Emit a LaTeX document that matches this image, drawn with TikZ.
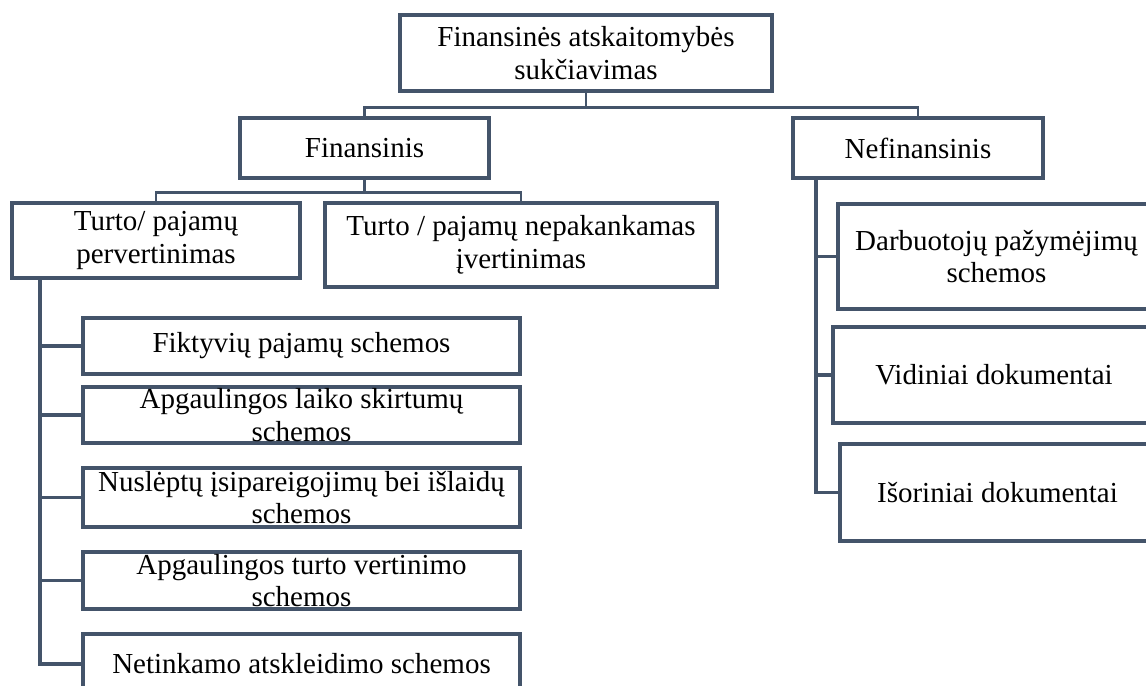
\documentclass[tikz,border=0pt]{standalone}
\usepackage{fontspec}
\setmainfont{Liberation Serif}
\usepackage{tikz}
\usetikzlibrary{positioning,calc}
\definecolor{framegray}{HTML}{44546A}
\tikzset{
  fraudbox/.style={draw=framegray,line width=2.4pt,fill=white,align=center,inner sep=0pt,
    font=\fontsize{16.5}{18.5}\selectfont},
  branchline/.style={draw=framegray,line width=1.6pt},
  trunkline/.style={draw=framegray,line width=1.9pt}
}

\begin{document}
\begin{tikzpicture}
  \useasboundingbox (0,0) rectangle (22.92,-13.72);
  % top levels
  \node[fraudbox,minimum width=7.44cm,minimum height=1.52cm] (top) at (11.72,-1.06)
    {Finansinės atskaitomybės\\sukčiavimas};
  \node[fraudbox,minimum width=4.98cm,minimum height=1.2cm] (fin) at (7.29,-2.96) {Finansinis};
  \node[fraudbox,minimum width=5.0cm,minimum height=1.2cm] (nefin) at (18.36,-2.96) {Nefinansinis};
  \node[fraudbox,minimum width=5.76cm,minimum height=1.5cm] (perv) at (3.12,-4.81)
    {Turto/ pajamų\\pervertinimas};
  \node[fraudbox,minimum width=7.84cm,minimum height=1.68cm] (nepak) at (10.42,-4.9)
    {Turto / pajamų nepakankamas\\įvertinimas};
  \draw[branchline] (top.south) -- ++(0,-0.28) -| (fin.north);
  \draw[branchline] (top.south) -- ++(0,-0.28) -| (nefin.north);
  \draw[branchline] (fin.south) -- ++(0,-0.24) -| (perv.north);
  \draw[branchline] (fin.south) -- ++(0,-0.24) -| (nepak.north);
  % financial schemes
  \node[fraudbox,minimum width=8.74cm,minimum height=1.12cm] (fikt) at (6.03,-6.92)
    {Fiktyvių pajamų schemos};
  \node[fraudbox,minimum width=8.74cm,minimum height=1.12cm] (laiko) at (6.03,-8.30)
    {Apgaulingos laiko skirtumų\\schemos};
  \node[fraudbox,minimum width=8.74cm,minimum height=1.18cm] (nusl) at (6.03,-9.95)
    {Nuslėptų įsipareigojimų bei išlaidų\\schemos};
  \node[fraudbox,minimum width=8.74cm,minimum height=1.14cm] (vert) at (6.03,-11.61)
    {Apgaulingos turto vertinimo\\schemos};
  \node[fraudbox,minimum width=8.74cm,minimum height=1.2cm] (netink) at (6.03,-13.28)
    {Netinkamo atskleidimo schemos};
  \coordinate (ltrunk) at ($(perv.south west)+(0.6,0)$);
  \draw[trunkline] (ltrunk) |- (netink.west);
  \foreach \n in {fikt,laiko,nusl,vert}
    \draw[trunkline] (ltrunk |- \n.west) -- (\n.west);
  % non-financial schemes
  \node[fraudbox,minimum width=6.34cm,minimum height=2.1cm] (darb) at (19.93,-5.13)
    {Darbuotojų pažymėjimų\\schemos};
  \node[fraudbox,minimum width=6.44cm,minimum height=1.92cm] (vid) at (19.88,-7.5)
    {Vidiniai dokumentai};
  \node[fraudbox,minimum width=6.3cm,minimum height=1.94cm] (isor) at (19.95,-9.85)
    {Išoriniai dokumentai};
  \coordinate (rtrunk) at ($(nefin.south west)+(0.5,0)$);
  \draw[trunkline] (rtrunk) |- (isor.west);
  \foreach \n in {darb,vid}
    \draw[trunkline] (rtrunk |- \n.west) -- (\n.west);
\end{tikzpicture}
\end{document}
